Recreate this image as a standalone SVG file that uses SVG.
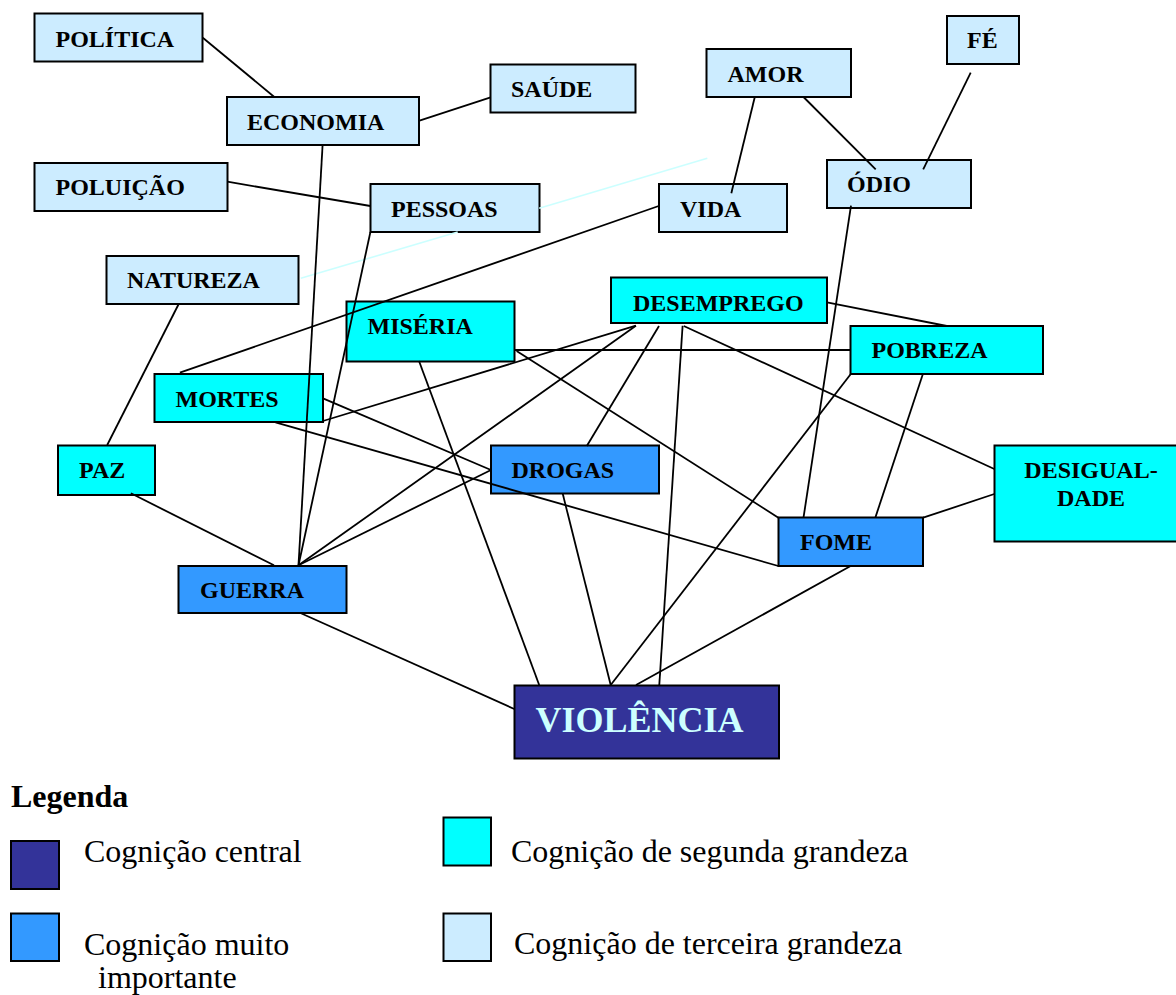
<svg xmlns="http://www.w3.org/2000/svg" width="1176" height="995" viewBox="0 0 1176 995">
<style>
.n rect{stroke:#000;stroke-width:2}
.t3{fill:#CCECFF}
.t2{fill:#00FFFF}
.t1{fill:#3399FF}
.t0{fill:#333399}
.lb{font-family:"Liberation Serif","Times New Roman",serif;font-weight:bold;font-size:24px;fill:#000}
.lg{font-family:"Liberation Serif","Times New Roman",serif;font-size:32px;fill:#000}
#connectors line{stroke:#000;stroke-width:1.8}
#connectors .faint{stroke:#CCFFFF;stroke-width:1.6}
</style>
<rect width="1176" height="995" fill="#fff"/>
<g id="nodes">
<g id="politica" class="n"><rect class="t3" x="34.5" y="13.5" width="168" height="48"/><text class="lb" x="55.5" y="47">POLÍTICA</text></g>
<g id="economia" class="n"><rect class="t3" x="227" y="97" width="192" height="48"/><text class="lb" x="247" y="130">ECONOMIA</text></g>
<g id="saude" class="n"><rect class="t3" x="490.5" y="64.5" width="145" height="48"/><text class="lb" x="511" y="97">SAÚDE</text></g>
<g id="poluicao" class="n"><rect class="t3" x="34.5" y="163" width="193" height="48"/><text class="lb" x="55.5" y="195">POLUIÇÃO</text></g>
<g id="pessoas" class="n"><rect class="t3" x="370.5" y="184" width="169" height="48"/><text class="lb" x="391" y="217">PESSOAS</text></g>
<g id="natureza" class="n"><rect class="t3" x="106.5" y="256" width="192" height="48"/><text class="lb" x="127" y="288">NATUREZA</text></g>
<g id="amor" class="n"><rect class="t3" x="706.5" y="49" width="144.5" height="48"/><text class="lb" x="727.5" y="82">AMOR</text></g>
<g id="fe" class="n"><rect class="t3" x="947" y="16" width="72" height="48"/><text class="lb" x="967" y="48">FÉ</text></g>
<g id="odio" class="n"><rect class="t3" x="827" y="160" width="144" height="48"/><text class="lb" x="847" y="192">ÓDIO</text></g>
<g id="vida" class="n"><rect class="t3" x="659" y="184" width="128" height="48"/><text class="lb" x="680" y="217">VIDA</text></g>
<g id="desemprego" class="n"><rect class="t2" x="611" y="277.5" width="216" height="45.5"/><text class="lb" x="633" y="311">DESEMPREGO</text></g>
<g id="miseria" class="n"><rect class="t2" x="346.5" y="301.5" width="168" height="60"/><text class="lb" x="367.5" y="334">MISÉRIA</text></g>
<g id="pobreza" class="n"><rect class="t2" x="850.5" y="326" width="192.5" height="48"/><text class="lb" x="871.5" y="358">POBREZA</text></g>
<g id="mortes" class="n"><rect class="t2" x="154.5" y="374" width="168.5" height="48"/><text class="lb" x="175.5" y="407">MORTES</text></g>
<g id="paz" class="n"><rect class="t2" x="58" y="445.5" width="97" height="49.5"/><text class="lb" x="79" y="478">PAZ</text></g>
<g id="drogas" class="n"><rect class="t1" x="491" y="445.5" width="168" height="48"/><text class="lb" x="511.5" y="478">DROGAS</text></g>
<g id="desigualdade" class="n"><rect class="t2" x="994.5" y="445.5" width="200" height="96"/><text class="lb" x="1091" y="478" text-anchor="middle">DESIGUAL-</text><text class="lb" x="1091" y="506" text-anchor="middle">DADE</text></g>
<g id="fome" class="n"><rect class="t1" x="778.5" y="517.5" width="144.5" height="48.5"/><text class="lb" x="800" y="550">FOME</text></g>
<g id="guerra" class="n"><rect class="t1" x="178.5" y="566" width="168" height="47"/><text class="lb" x="200" y="598">GUERRA</text></g>
<g id="violencia" class="n"><rect class="t0" x="514.5" y="685.5" width="264.5" height="73"/><text class="lb" x="535.5" y="731.5" style="font-size:36px;fill:#CCFFFF">VIOLÊNCIA</text></g>
</g>
<g id="connectors">
<line class="faint" x1="300.8" y1="278.3" x2="457.7" y2="232"/>
<line class="faint" x1="539.2" y1="208.2" x2="707.3" y2="158.3"/>
<line x1="202.8" y1="37.7" x2="274" y2="96.7"/>
<line x1="419.5" y1="120.7" x2="490.6" y2="97.3"/>
<line x1="227.3" y1="181.7" x2="370.4" y2="206"/>
<line x1="754.8" y1="97" x2="731.3" y2="193.3"/>
<line x1="803.5" y1="97" x2="875.7" y2="169.3"/>
<line x1="970.7" y1="72.7" x2="923.2" y2="169.3"/>
<line x1="851" y1="205.7" x2="803.5" y2="517.7"/>
<line x1="658.7" y1="206" x2="179.9" y2="372.7"/>
<line x1="322.6" y1="145" x2="298.5" y2="565.3"/>
<line x1="370.4" y1="232" x2="298.5" y2="565.3"/>
<line x1="178.7" y1="304" x2="107.2" y2="445"/>
<line x1="130.9" y1="493.3" x2="274" y2="565.3"/>
<line x1="323" y1="421" x2="635.9" y2="325.7"/>
<line x1="298.5" y1="565.3" x2="635.9" y2="325.7"/>
<line x1="323" y1="398.3" x2="491" y2="470"/>
<line x1="491" y1="470" x2="298.5" y2="565.3"/>
<line x1="514.7" y1="350" x2="850.6" y2="350"/>
<line x1="516.6" y1="351" x2="778.4" y2="517.7"/>
<line x1="419" y1="361" x2="539.2" y2="685"/>
<line x1="275.5" y1="422.3" x2="778.4" y2="566"/>
<line x1="300.4" y1="613" x2="514.3" y2="709"/>
<line x1="562.6" y1="493.3" x2="610.7" y2="685"/>
<line x1="827" y1="302.3" x2="946.8" y2="326"/>
<line x1="683.8" y1="326" x2="994.3" y2="469"/>
<line x1="659" y1="326" x2="586.8" y2="446"/>
<line x1="682.6" y1="325.7" x2="659.3" y2="685"/>
<line x1="850.6" y1="374.3" x2="610.7" y2="685"/>
<line x1="922.8" y1="374.3" x2="875.3" y2="517.7"/>
<line x1="923.2" y1="517.7" x2="994.3" y2="494"/>
<line x1="850.6" y1="566" x2="636" y2="685"/>
</g>
<g id="legend">
<text class="lg" x="11" y="806.5" style="font-weight:bold">Legenda</text>
<g class="n"><rect class="t0" x="11" y="841" width="48" height="48"/></g>
<text class="lg" x="84" y="862">Cognição central</text>
<g class="n"><rect class="t2" x="443.5" y="817.5" width="47.5" height="48"/></g>
<text class="lg" x="511" y="862">Cognição de segunda grandeza</text>
<g class="n"><rect class="t1" x="11" y="913.5" width="48" height="47.5"/></g>
<text class="lg" x="84" y="955">Cognição muito</text>
<text class="lg" x="98" y="988">importante</text>
<g class="n"><rect class="t3" x="443.5" y="913.5" width="47.5" height="47.5"/></g>
<text class="lg" x="514" y="954">Cognição de terceira grandeza</text>
</g>
</svg>
